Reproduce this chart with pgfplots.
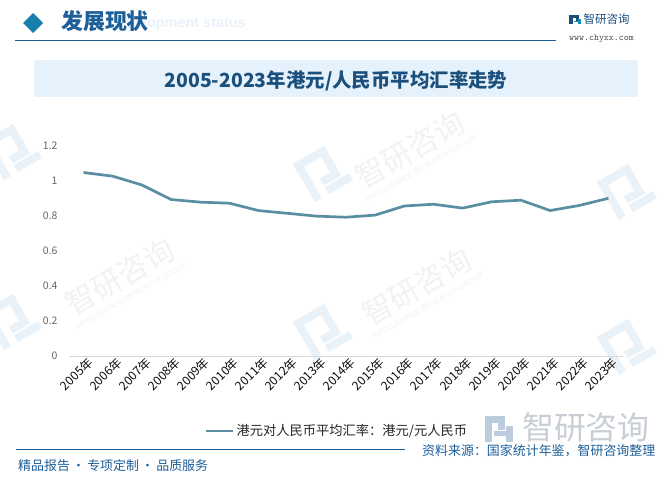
\documentclass[border=0pt]{standalone}
\usepackage{fontspec}
\setmainfont{Liberation Sans}
\newfontfamily\cjk{Noto Sans CJK SC}
\usepackage{pgfplots}
\pgfplotsset{compat=1.18}
\definecolor{hdrblue}{HTML}{1D5F99}
\definecolor{titleblue}{HTML}{1B4F7C}
\definecolor{bannerfill}{HTML}{E6F2FB}
\definecolor{linec}{HTML}{5A8FA3}
\definecolor{wm}{HTML}{F0F2F4}
\definecolor{wmblue}{HTML}{EAF2F9}
\definecolor{bigwm}{HTML}{C9CED5}
\definecolor{bigwmicon}{HTML}{BCCBDD}
\newcommand{\wmark}[2]{%
  \node[rotate=30, text=wm, font=\cjk\fontsize{30}{30}\selectfont, inner sep=0] at (#1,#2) {智研咨询};
  \node[rotate=30, text=wm, font=\fontsize{7.5}{7.5}\selectfont, inner sep=0] at (#1+11,#2+19) {INTELLIGENCE RESEARCH GROUP};}
\newcommand{\wicon}[2]{%
  \begin{scope}[shift={(#1,#2)}]
  \fill[wmblue, rotate=30] (-22,-22) rectangle (-14,22);
  \fill[wmblue, rotate=30] (-22,-22) rectangle (14,-14);
  \fill[wmblue, rotate=30] (6,-22) rectangle (14,4);
  \fill[wmblue, rotate=30] (-6,4) rectangle (14,12);
  \fill[wmblue, rotate=30] (-6,14) rectangle (22,22);
  \end{scope}}
\begin{document}
\begin{tikzpicture}
\path[use as bounding box, fill=white] (0bp,0bp) rectangle (672bp,-479bp);
\begin{scope}[x=1bp,y=-1bp]
  % watermarks
  \wmark{120}{277}
  \wmark{417}{287}
  \wmark{410}{150}
  \wicon{12}{150}
  \wicon{323}{172}
  \wicon{323}{330}
  \wicon{627}{190}
  \wicon{627}{345}
  \wicon{12}{320}
  % header
  \node[anchor=east, text=wmblue, font=\bfseries\fontsize{14.5}{15}\selectfont, inner sep=0] at (246,24) {Development status};
  \fill[hdrblue!80!cyan] (23,23) -- (33,13) -- (43,23) -- (33,33) -- cycle;
  \node[anchor=west, text=hdrblue, font=\cjk\bfseries\fontsize{22}{22}\selectfont, inner sep=0] at (61,21) {发展现状};
  \draw[hdrblue, line width=1.3bp] (15,40.7) -- (556,40.7);
  % logo
  \fill[titleblue] (569,14.7) rectangle (572.5,24);
  \fill[titleblue] (569,14.7) rectangle (579,18);
  \fill[titleblue] (575.5,14.7) rectangle (579,20.5);
  \fill[hdrblue!70!cyan] (573.5,20.8) rectangle (581,22.3) ;
  \fill[hdrblue!70!cyan] (577.5,19) rectangle (581,24);
  \node[anchor=west, text=titleblue, font=\cjk\fontsize{11.5}{12}\selectfont, inner sep=0] at (583.5,19.3) {智研咨询};
  \node[anchor=west, text=black!70, font=\fontsize{9.5}{10}\selectfont\ttfamily, inner sep=0] at (569,38.3) {www.chyxx.com};
  % banner
  \fill[bannerfill] (34,60) rectangle (638,96.7);
  \node[text=titleblue, font=\cjk\bfseries\fontsize{19.5}{20}\selectfont, inner sep=0] at (336,81) {2005-2023年港元/人民币平均汇率走势};
  % big watermark bottom right
  \fill[bigwmicon] (485,416) rectangle (492,442);
  \fill[bigwmicon] (485,416) rectangle (505,423);
  \fill[bigwmicon] (498,416) rectangle (505,430);
  \fill[bigwmicon] (494,431) rectangle (513,436);
  \fill[bigwmicon] (506,426) rectangle (513,442);
  \node[anchor=west, text=bigwm, font=\cjk\fontsize{32}{32}\selectfont, inner sep=0] at (522,427) {智研咨询};
  % footer
  \draw[hdrblue, line width=1.3bp] (16,449.4) -- (405,449.4);
  \node[anchor=west, text=hdrblue, font=\cjk\fontsize{13}{13}\selectfont, inner sep=0] at (422,451) {资料来源：国家统计年鉴，智研咨询整理};
  \node[anchor=west, text=hdrblue, font=\cjk\fontsize{13}{13}\selectfont, inner sep=0] at (18,466) {精品报告\,·\,专项定制\,·\,品质服务};
\end{scope}
\begin{axis}[
  at={(69bp,-356bp)}, anchor=south west,
  scale only axis, width=554bp, height=210.3bp,
  xmin=-0.5, xmax=18.5, ymin=0, ymax=1.2,
  axis x line*=bottom, axis y line*=left,
  x axis line style={draw=black!15, line width=0.8bp, -},
  y axis line style={draw=none},
  major tick length=0,
  xtick={0,...,18},
  xticklabels={2005年,2006年,2007年,2008年,2009年,2010年,2011年,2012年,2013年,2014年,2015年,2016年,2017年,2018年,2019年,2020年,2021年,2022年,2023年},
  x tick label style={font=\cjk\fontsize{12.2}{12}\selectfont, rotate=45, anchor=north east, inner sep=1bp, text=black!95, xshift=3bp, yshift=-1bp},
  ytick={0,0.2,0.4,0.6,0.8,1,1.2},
  yticklabels={0,0.2,0.4,0.6,0.8,1,1.2},
  y tick label style={font=\cjk\fontsize{10.5}{11}\selectfont, text=black!60, xshift=-8bp},
  legend style={at={(0.4838,-0.3566)}, anchor=center, draw=none, fill=none, font=\cjk\fontsize{13.3}{14}\selectfont, text=black!85, inner sep=0pt},
  legend image code/.code={\draw[#1] (0bp,0bp) -- (27bp,0bp);},
  clip=false,
]
\addplot[linec, line width=2.7bp, line join=round] coordinates {
(0,1.047) (1,1.026) (2,0.976) (3,0.893) (4,0.878) (5,0.872) (6,0.830) (7,0.814) (8,0.798) (9,0.792)
(10,0.804) (11,0.856) (12,0.866) (13,0.844) (14,0.880) (15,0.889) (16,0.830) (17,0.859) (18,0.900)
};
\addlegendentry{港元对人民币平均汇率：港元/元人民币}
\end{axis}
\end{tikzpicture}
\end{document}
